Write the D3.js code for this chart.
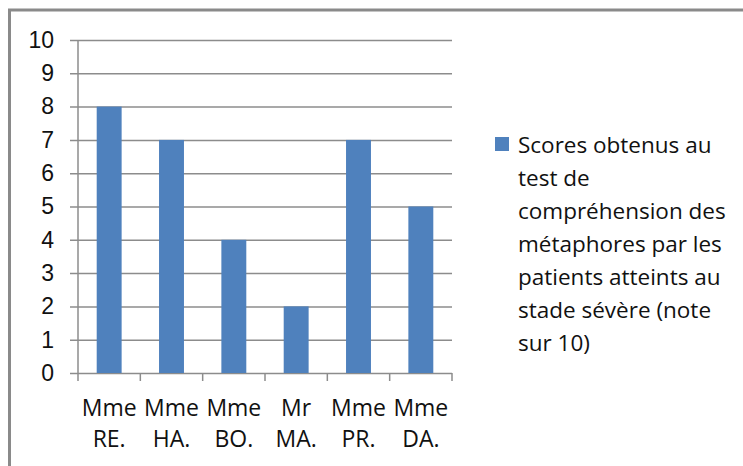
<!DOCTYPE html>
<html>
<head>
<meta charset="utf-8">
<script src="https://cdn.jsdelivr.net/npm/d3@7"></script>
<style>
  body { margin: 0; background: #fff; }
  svg { display: block; font-family: "Open Sans", sans-serif; }
</style>
</head>
<body>
<svg id="chart" width="743" height="466"></svg>
<script>
// data
let patients = ["Mme RE.", "Mme HA.", "Mme BO.", "Mr MA.", "Mme PR.", "Mme DA."];
let scores = [8, 7, 4, 2, 7, 5];
let yTicks = [0, 1, 2, 3, 4, 5, 6, 7, 8, 9, 10];
let legendLines = ["Scores obtenus au", "test de", "compréhension des",
    "métaphores par les", "patients atteints au", "stade sévère (note", "sur 10)"];

let svg = d3.select("#chart");
let barColor = "#4f81bd";
let gridColor = "#8c8c8c";
let textColor = "#111";

// frame of the chart, runs past right and bottom edge
svg.append("rect")
    .attr("x", 9.5).attr("y", 10)
    .attr("width", 800).attr("height", 500)
    .attr("fill", "none")
    .attr("stroke", "#8a8a8a")
    .attr("stroke-width", 3);

let plotLeft = 78, plotRight = 452, plotTop = 40, plotBottom = 373;

let x = d3.scaleBand()
    .domain(patients)
    .range([plotLeft, plotRight])
    .paddingInner(0.6)
    .paddingOuter(0.3);

let xEdges = d3.scaleLinear().domain([0, patients.length]).range([plotLeft, plotRight]);

let y = d3.scaleLinear()
    .domain([0, 10])
    .range([plotBottom, plotTop]);

// gridlines + y ticks
let yAxis = svg.append("g")
    .attr("transform", `translate(${plotLeft},0)`)
    .call(d3.axisLeft(y).tickValues(yTicks).tickSize(-(plotRight - plotLeft)).tickPadding(24));
yAxis.select(".domain").remove();
yAxis.selectAll(".tick line")
    .attr("x1", -8)
    .attr("stroke", gridColor)
    .attr("stroke-width", 1.5);
yAxis.selectAll(".tick text")
    .attr("fill", textColor)
    .style("font-size", "23px");

// vertical axis line
svg.append("line")
    .attr("x1", plotLeft).attr("x2", plotLeft)
    .attr("y1", plotTop).attr("y2", plotBottom)
    .attr("stroke", gridColor).attr("stroke-width", 1.5);

// bars
svg.selectAll(".bar")
    .data(scores)
    .enter().append("rect")
    .attr("class", "bar")
    .attr("x", (d, i) => x(patients[i]))
    .attr("y", d => y(d))
    .attr("width", x.bandwidth())
    .attr("height", d => y(0) - y(d))
    .attr("fill", barColor);

// category boundary ticks below the axis
svg.selectAll(".xtick")
    .data(d3.range(patients.length + 1))
    .enter().append("line")
    .attr("class", "xtick")
    .attr("x1", d => xEdges(d)).attr("x2", d => xEdges(d))
    .attr("y1", plotBottom).attr("y2", plotBottom + 8)
    .attr("stroke", gridColor).attr("stroke-width", 1.5);

// two-line category labels
let labels = svg.selectAll(".xlabel")
    .data(patients)
    .enter().append("text")
    .attr("class", "xlabel")
    .attr("text-anchor", "middle")
    .attr("fill", textColor)
    .style("font-size", "23px");
labels.each(function(d) {
    let cx = x(d) + x.bandwidth() / 2;
    d.split(" ").forEach((part, k) => {
        d3.select(this).append("tspan")
            .attr("x", cx)
            .attr("y", 416 + k * 31)
            .text(part);
    });
});

// legend
svg.append("rect")
    .attr("x", 495).attr("y", 137)
    .attr("width", 14).attr("height", 14)
    .attr("fill", barColor);
svg.append("g").selectAll("text")
    .data(legendLines)
    .enter().append("text")
    .attr("x", 518)
    .attr("y", (d, i) => 153 + i * 33)
    .attr("fill", textColor)
    .style("font-size", "22.5px")
    .text(d => d);
</script>
</body>
</html>
